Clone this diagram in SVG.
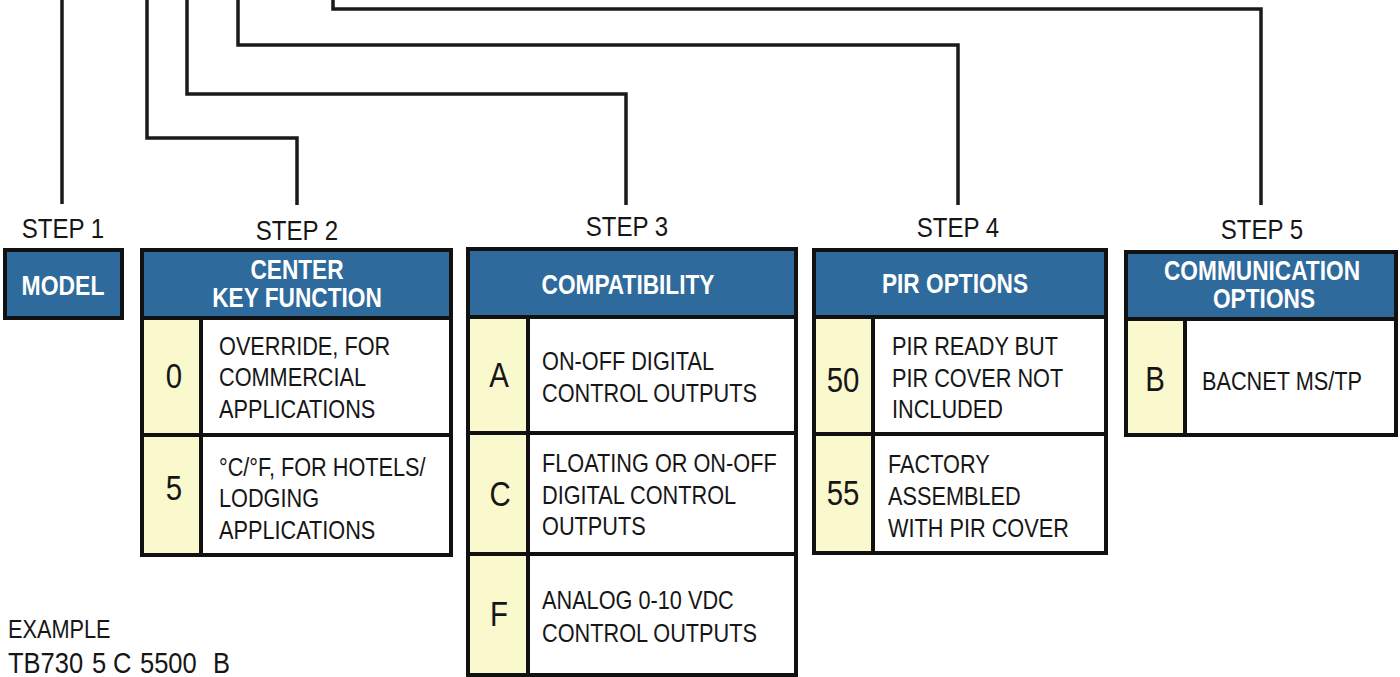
<svg xmlns="http://www.w3.org/2000/svg" width="1400" height="677" viewBox="0 0 1400 677">
<style>
text{font-family:"Liberation Sans",Arial,sans-serif;fill:#161616}
.d{font-size:26px}
.e{font-size:29px}
.s{font-size:28px;text-anchor:middle}
.c{font-size:35px;text-anchor:middle}
.h{font-size:27px;font-weight:bold;fill:#fff;text-anchor:middle}
.box{fill:#fff;stroke:#111;stroke-width:4}
.hd{fill:#2f6a9c}
.yl{fill:#faf8cd}
.ln{stroke:#111;stroke-width:4;fill:none}
.cn{stroke:#1a1a1a;stroke-width:3.5;fill:none}
</style>
<rect width="1400" height="677" fill="#fff"/>
<g id="connectors">
<polyline class="cn" points="62,0 62,204"/>
<polyline class="cn" points="147,0 147,138 297,138 297,205"/>
<polyline class="cn" points="187,0 187,94 626,94 626,205"/>
<polyline class="cn" points="238,0 238,45 958,45 958,205"/>
<polyline class="cn" points="333,0 333,9 1261,9 1261,205"/>
</g>
<g id="step1">
<text class="s" transform="translate(63,238) scale(0.86,1)">STEP 1</text>
<rect class="hd" x="5" y="250" width="117" height="68" stroke="#111" stroke-width="4"/>
<text class="h" transform="translate(63,295) scale(0.85,1)">MODEL</text>
</g>
<g id="step2">
<text class="s" transform="translate(297,240) scale(0.86,1)">STEP 2</text>
<rect class="box" x="142" y="250" width="309" height="305"/>
<rect class="hd" x="144" y="252" width="305" height="66"/>
<rect class="yl" x="144" y="320" width="57" height="233"/>
<line class="ln" x1="142" y1="318" x2="451" y2="318"/>
<line class="ln" x1="201" y1="318" x2="201" y2="555"/>
<line class="ln" x1="142" y1="435" x2="451" y2="435"/>
<text class="h" transform="translate(297,279) scale(0.84,1)">CENTER</text>
<text class="h" transform="translate(297,307) scale(0.84,1)">KEY FUNCTION</text>
<text class="c" transform="translate(174,388) scale(0.84,1)">0</text>
<text class="d" transform="translate(219,355) scale(0.835,1)">OVERRIDE, FOR</text>
<text class="d" transform="translate(219,386) scale(0.835,1)">COMMERCIAL</text>
<text class="d" transform="translate(219,418) scale(0.835,1)">APPLICATIONS</text>
<text class="c" transform="translate(174,500) scale(0.84,1)">5</text>
<text class="d" transform="translate(219,476) scale(0.835,1)">°C/°F, FOR HOTELS/</text>
<text class="d" transform="translate(219,507) scale(0.835,1)">LODGING</text>
<text class="d" transform="translate(219,539) scale(0.835,1)">APPLICATIONS</text>
</g>
<g id="step3">
<text class="s" transform="translate(627,236) scale(0.86,1)">STEP 3</text>
<rect class="box" x="468" y="249" width="328" height="426"/>
<rect class="hd" x="470" y="251" width="324" height="66"/>
<rect class="yl" x="470" y="319" width="58" height="354"/>
<line class="ln" x1="468" y1="317" x2="796" y2="317"/>
<line class="ln" x1="528" y1="317" x2="528" y2="675"/>
<line class="ln" x1="468" y1="433" x2="796" y2="433"/>
<line class="ln" x1="468" y1="554" x2="796" y2="554"/>
<text class="h" transform="translate(628,294) scale(0.84,1)">COMPATIBILITY</text>
<text class="c" transform="translate(499,387) scale(0.84,1)">A</text>
<text class="d" transform="translate(542,370) scale(0.835,1)">ON-OFF DIGITAL</text>
<text class="d" transform="translate(542,402) scale(0.835,1)">CONTROL OUTPUTS</text>
<text class="c" transform="translate(500,506) scale(0.84,1)">C</text>
<text class="d" transform="translate(542,472) scale(0.835,1)">FLOATING OR ON-OFF</text>
<text class="d" transform="translate(542,504) scale(0.835,1)">DIGITAL CONTROL</text>
<text class="d" transform="translate(542,535) scale(0.835,1)">OUTPUTS</text>
<text class="c" transform="translate(499,626) scale(0.84,1)">F</text>
<text class="d" transform="translate(542,609) scale(0.835,1)">ANALOG 0-10 VDC</text>
<text class="d" transform="translate(542,642) scale(0.835,1)">CONTROL OUTPUTS</text>
</g>
<g id="step4">
<text class="s" transform="translate(958,237) scale(0.86,1)">STEP 4</text>
<rect class="box" x="814" y="250" width="292" height="303"/>
<rect class="hd" x="816" y="252" width="288" height="65"/>
<rect class="yl" x="816" y="319" width="57" height="232"/>
<line class="ln" x1="814" y1="317" x2="1106" y2="317"/>
<line class="ln" x1="873" y1="317" x2="873" y2="553"/>
<line class="ln" x1="814" y1="434" x2="1106" y2="434"/>
<text class="h" transform="translate(955,293) scale(0.84,1)">PIR OPTIONS</text>
<text class="c" transform="translate(843,392) scale(0.84,1)">50</text>
<text class="d" transform="translate(892,355) scale(0.835,1)">PIR READY BUT</text>
<text class="d" transform="translate(892,387) scale(0.835,1)">PIR COVER NOT</text>
<text class="d" transform="translate(892,418) scale(0.835,1)">INCLUDED</text>
<text class="c" transform="translate(843,505) scale(0.84,1)">55</text>
<text class="d" transform="translate(888,473) scale(0.835,1)">FACTORY</text>
<text class="d" transform="translate(888,505) scale(0.835,1)">ASSEMBLED</text>
<text class="d" transform="translate(888,537) scale(0.835,1)">WITH PIR COVER</text>
</g>
<g id="step5">
<text class="s" transform="translate(1262,239) scale(0.86,1)">STEP 5</text>
<rect class="box" x="1126" y="252" width="270" height="183"/>
<rect class="hd" x="1128" y="254" width="266" height="65"/>
<rect class="yl" x="1128" y="321" width="57" height="112"/>
<line class="ln" x1="1126" y1="319" x2="1396" y2="319"/>
<line class="ln" x1="1185" y1="319" x2="1185" y2="435"/>
<text class="h" transform="translate(1262,280) scale(0.84,1)">COMMUNICATION</text>
<text class="h" transform="translate(1264,308) scale(0.84,1)">OPTIONS</text>
<text class="c" transform="translate(1155,391) scale(0.84,1)">B</text>
<text class="d" transform="translate(1202,390) scale(0.835,1)">BACNET MS/TP</text>
</g>
<g id="example">
<text class="d" transform="translate(8,638) scale(0.835,1)">EXAMPLE</text>
<text class="e" xml:space="preserve" transform="translate(0,673) scale(0.88,1)"><tspan x="9.1">TB730 </tspan><tspan x="104.5">5 </tspan><tspan x="128.4">C </tspan><tspan x="159.1">5500  </tspan><tspan x="242">B</tspan></text>
</g>
</svg>
